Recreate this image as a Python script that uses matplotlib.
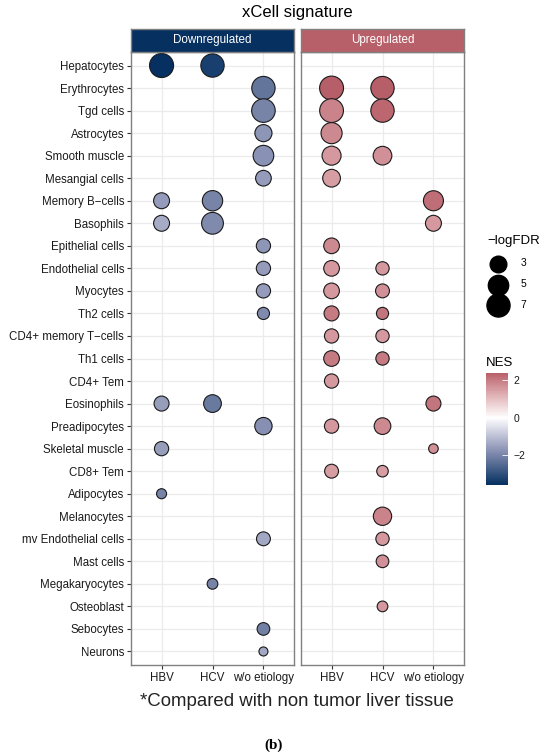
import numpy as np
import matplotlib
matplotlib.use("Agg")
import matplotlib.pyplot as plt
from matplotlib.colors import LinearSegmentedColormap, Normalize
from matplotlib.cm import ScalarMappable

plt.rcParams["font.family"] = ["Liberation Sans", "DejaVu Sans"]

cells = ["Hepatocytes", "Erythrocytes", "Tgd cells", "Astrocytes", "Smooth muscle",
         "Mesangial cells", "Memory B\u2212cells", "Basophils", "Epithelial cells",
         "Endothelial cells", "Myocytes", "Th2 cells", "CD4+ memory T\u2212cells",
         "Th1 cells", "CD4+ Tem", "Eosinophils", "Preadipocytes", "Skeletal muscle",
         "CD8+ Tem", "Adipocytes", "Melanocytes", "mv Endothelial cells", "Mast cells",
         "Megakaryocytes", "Osteoblast", "Sebocytes", "Neurons"]
etiologies = ["HBV", "HCV", "w/o etiology"]
panels = ["Downregulated", "Upregulated"]

# one entry per dot
dot_cell = ["Hepatocytes", "Hepatocytes", "Erythrocytes", "Tgd cells", "Astrocytes",
            "Smooth muscle", "Mesangial cells", "Memory B\u2212cells", "Memory B\u2212cells",
            "Basophils", "Basophils", "Epithelial cells", "Endothelial cells", "Myocytes",
            "Th2 cells", "Eosinophils", "Eosinophils", "Preadipocytes", "Skeletal muscle",
            "Adipocytes", "mv Endothelial cells", "Megakaryocytes", "Sebocytes", "Neurons",
            "Erythrocytes", "Erythrocytes", "Tgd cells", "Tgd cells", "Astrocytes",
            "Smooth muscle", "Smooth muscle", "Mesangial cells", "Memory B\u2212cells",
            "Basophils", "Epithelial cells", "Endothelial cells", "Endothelial cells",
            "Myocytes", "Myocytes", "Th2 cells", "Th2 cells", "CD4+ memory T\u2212cells",
            "CD4+ memory T\u2212cells", "Th1 cells", "Th1 cells", "CD4+ Tem", "Eosinophils",
            "Preadipocytes", "Preadipocytes", "Skeletal muscle", "CD8+ Tem", "CD8+ Tem",
            "Melanocytes", "mv Endothelial cells", "Mast cells", "Osteoblast"]
dot_panel = ["Downregulated"] * 24 + ["Upregulated"] * 32
dot_etiology = ["HBV", "HCV", "w/o etiology", "w/o etiology", "w/o etiology",
                "w/o etiology", "w/o etiology", "HBV", "HCV",
                "HBV", "HCV", "w/o etiology", "w/o etiology", "w/o etiology",
                "w/o etiology", "HBV", "HCV", "w/o etiology", "HBV",
                "HBV", "w/o etiology", "HCV", "w/o etiology", "w/o etiology",
                "HBV", "HCV", "HBV", "HCV", "HBV",
                "HBV", "HCV", "HBV", "w/o etiology",
                "w/o etiology", "HBV", "HBV", "HCV",
                "HBV", "HCV", "HBV", "HCV", "HBV",
                "HCV", "HBV", "HCV", "HBV", "w/o etiology",
                "HBV", "HCV", "w/o etiology", "HBV", "HCV",
                "HCV", "HCV", "HCV", "HCV"]
dot_nes = [-3.6, -3.3, -2.3, -2.0, -1.7,
           -1.75, -1.6, -1.6, -2.0,
           -1.35, -1.9, -1.7, -1.6, -1.6,
           -1.9, -1.55, -2.2, -1.8, -1.55,
           -2.0, -1.4, -2.0, -2.1, -1.4,
           2.4, 2.4, 1.9, 2.3, 1.8,
           1.6, 1.7, 1.5, 2.2,
           1.6, 1.8, 1.6, 1.6,
           1.6, 1.7, 2.0, 2.1, 1.6,
           1.6, 2.0, 2.0, 1.6, 2.1,
           1.6, 1.8, 1.7, 1.5, 1.5,
           1.9, 1.6, 1.7, 1.6]
dot_logfdr = [7.8, 7.2, 7.2, 7.4, 3.2,
              5.2, 2.6, 2.7, 5.0,
              2.7, 6.0, 2.1, 2.1, 2.1,
              1.6, 2.35, 3.5, 3.3, 2.1,
              1.35, 2.0, 1.4, 1.7, 1.32,
              7.7, 7.2, 7.6, 7.2, 5.5,
              4.2, 4.0, 3.5, 4.8,
              2.7, 2.6, 2.6, 1.85,
              2.6, 2.0, 2.35, 1.6, 2.1,
              1.85, 2.6, 1.85, 2.1, 2.35,
              2.1, 3.0, 1.33, 2.0, 1.5,
              3.8, 1.85, 1.7, 1.4]
size_breaks = [3, 5, 7]

lo, hi = min(dot_logfdr), max(dot_logfdr)


def marker_area(v):
    # ggplot-style area scale: diameter grows with sqrt of rescaled value
    d = 6.5 + (17.3 - 6.5) * np.sqrt((np.asarray(v, float) - lo) / (hi - lo))
    return d ** 2


lim = max(abs(min(dot_nes)), abs(max(dot_nes)))
norm = Normalize(-lim, lim)
# gradient low/mid/high, with extra stops to mimic the greyish Lab blend
cmap = LinearSegmentedColormap.from_list(
    "nes",
    [(0.0, "#053061"), (0.25, "#8790B2"), (0.375, "#C3C6DA"), (0.5, "#FFFFFF"),
     (0.625, "#E8C6C9"), (0.75, "#CE8A91"), (0.833, "#B8606A"), (1.0, "#8E2438")])

fig = plt.figure(figsize=(5.5, 7.55), dpi=100)

W, H = 550, 755
panel_left = [131, 301]
panel_w = 163
top, bottom = 52, 665
strip_colors = ["#06305F", "#B8606A"]

ypos = {c: i for i, c in enumerate(cells)}
xpos = {e: i for i, e in enumerate(etiologies)}

for k, name in enumerate(panels):
    ax = fig.add_axes([panel_left[k] / W, 1 - bottom / H, panel_w / W, (bottom - top) / H])
    sel = [i for i, p in enumerate(dot_panel) if p == name]
    xs = [xpos[dot_etiology[i]] for i in sel]
    ys = [ypos[dot_cell[i]] for i in sel]
    ax.scatter(xs, ys, s=marker_area([dot_logfdr[i] for i in sel]),
               c=[dot_nes[i] for i in sel], cmap=cmap, norm=norm,
               edgecolors="#1a1a1a", linewidths=0.8, zorder=3)
    ax.set_xlim(-0.6, len(etiologies) - 0.4)
    ax.set_ylim(len(cells) - 0.4, -0.6)
    ax.set_xticks(range(len(etiologies)))
    ax.set_xticklabels(etiologies)
    ax.set_yticks(range(len(cells)))
    if k == 0:
        ax.set_yticklabels(cells)
        ax.tick_params(axis="y", length=3, width=0.8, color="#333333",
                       labelsize=8.3, labelcolor="#1a1a1a", pad=2)
    else:
        ax.set_yticklabels([])
        ax.tick_params(axis="y", length=0)
    ax.tick_params(axis="x", length=3, width=0.8, color="#333333",
                   labelsize=8.3, labelcolor="#1a1a1a", pad=2)
    ax.grid(True, color="#EBEBEB", linewidth=0.9)
    ax.set_axisbelow(True)
    for sp in ax.spines.values():
        sp.set_color("#808080")
        sp.set_linewidth(1.0)

    sax = fig.add_axes([panel_left[k] / W, 1 - top / H, panel_w / W, 23 / H])
    sax.set_facecolor(strip_colors[k])
    sax.set_xticks([])
    sax.set_yticks([])
    for sp in sax.spines.values():
        sp.set_color("#808080")
        sp.set_linewidth(1.0)
    sax.text(0.5, 0.5, name, color="white", fontsize=8.4, ha="center", va="center",
             transform=sax.transAxes)

fig.text(297 / W, 1 - 12 / H, "xCell signature", fontsize=12, ha="center", va="center")

# size legend
handles = [plt.scatter([], [], s=marker_area(b), color="black") for b in size_breaks]
leg = fig.legend(handles, [str(b) for b in size_breaks], title="\u2212logFDR",
                 loc="upper left", bbox_to_anchor=(478 / W, 1 - 226 / H),
                 frameon=False, fontsize=7.5, title_fontsize=9.5,
                 labelspacing=1.05, handletextpad=1.2, alignment="left")

# NES colorbar
cax = fig.add_axes([486 / W, 1 - 485 / H, 22 / W, 112 / H])
sm = ScalarMappable(norm=norm, cmap=cmap)
cb = fig.colorbar(sm, cax=cax, boundaries=np.linspace(min(dot_nes), max(dot_nes), 257))
cb.set_ticks([-2, 0, 2])
cb.set_ticklabels(["\u22122", "0", "2"])
cb.outline.set_visible(False)
cax.tick_params(direction="in", color="white", length=4, width=0.6,
                labelsize=7.5, labelcolor="#1a1a1a", pad=4)
cax.set_title("NES", loc="left", fontsize=9.5, pad=5)

fig.text(297 / W, 1 - 702 / H, "*Compared with non tumor liver tissue",
         fontsize=13.4, ha="center", va="center", color="#222222")
fig.text(273.5 / W, 1 - 745 / H, "(b)", fontsize=11, fontweight="bold",
         family="Liberation Serif", ha="center", va="center")

fig.savefig("out.png", dpi=100)
